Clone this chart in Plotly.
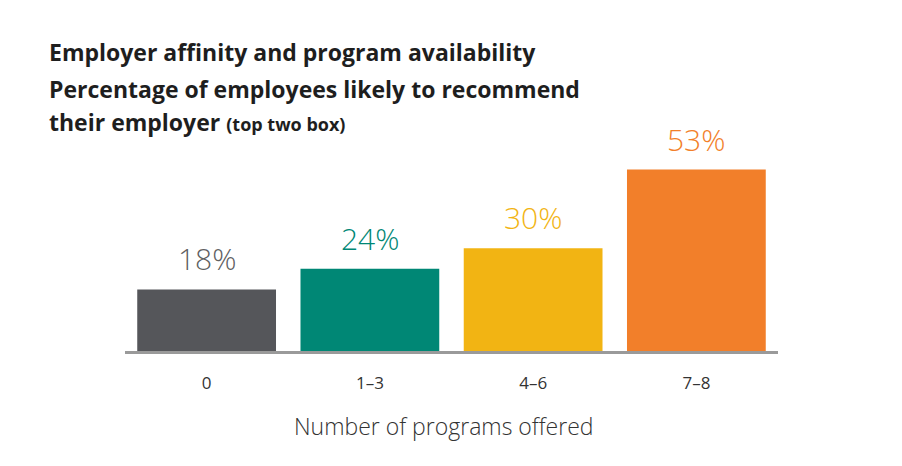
import plotly.graph_objects as go

categories = ["0", "1–3", "4–6", "7–8"]
values = [18, 24, 30, 53]
colors = ["#55565A", "#008775", "#F2B413", "#F27F2A"]
label_colors = ["#5f5f62", "#008775", "#F2B413", "#F27F2A"]
x_title = "Number of programs offered"

# page has an 8px body margin; design in page pixels, then shift
OFF = 8
W, H = 902 - OFF, 466 - OFF
L, R = 125 - OFF, 778 - OFF
T, B = 120 - OFF, 351 - OFF

fig = go.Figure()
fig.add_trace(go.Bar(
    x=categories, y=values, marker=dict(color=colors, line=dict(width=0)),
    hoverinfo="skip", showlegend=False,
))

for c, v, col in zip(categories, values, label_colors):
    fig.add_annotation(
        x=c, y=v, xref="x", yref="y", text=f"{v}%", showarrow=False,
        yanchor="bottom", yshift=8,
        font=dict(family="Open Sans", size=30, color=col, weight=300),
    )

pw, ph = R - L, B - T
def px2x(px): return (px - OFF - L) / pw
def py2y(py): return (B - (py - OFF)) / ph

fig.add_shape(type="rect", xref="paper", yref="paper",
              x0=px2x(4), x1=px2x(897), y0=py2y(480), y1=py2y(6),
              fillcolor="white", line=dict(width=0), layer="below")

title_font = dict(family="Open Sans", size=23, color="#1e1e1e", weight=700)
fig.add_annotation(xref="paper", yref="paper", x=px2x(47), y=py2y(52),
                   xanchor="left", yanchor="middle", showarrow=False,
                   text="Employer affinity and program availability", font=title_font)
fig.add_annotation(xref="paper", yref="paper", x=px2x(47), y=py2y(89),
                   xanchor="left", yanchor="middle", showarrow=False,
                   text="Percentage of employees likely to recommend", font=title_font)
fig.add_annotation(xref="paper", yref="paper", x=px2x(47), y=py2y(122),
                   xanchor="left", yanchor="middle", showarrow=False,
                   text="their employer <span style='font-size:18px'>(top two box)</span>",
                   font=title_font)

fig.add_annotation(xref="paper", yref="paper", x=px2x(444), y=py2y(426),
                   xanchor="center", yanchor="middle", showarrow=False,
                   text=x_title,
                   font=dict(family="Open Sans", size=23, color="#333333", weight=300))

fig.update_layout(
    width=W, height=H,
    margin=dict(l=L, r=W - R, t=T, b=H - B),
    paper_bgcolor="#ececec", plot_bgcolor="white",
    bargap=0.15,
    xaxis=dict(
        showline=True, linecolor="#9a9a9a", linewidth=2.5,
        showgrid=False, ticks="", ticklabelstandoff=15,
        tickfont=dict(family="Open Sans", size=17, color="#333333"),
        fixedrange=True,
    ),
    yaxis=dict(range=[0, 67.5], visible=False, fixedrange=True),
)

fig.write_html("out.html")
